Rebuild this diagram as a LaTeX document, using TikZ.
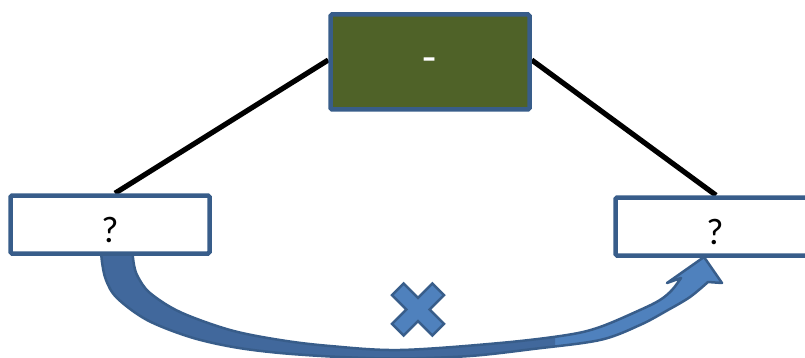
\documentclass[tikz,border=0pt]{standalone}
\usepackage{fontspec}
\setmainfont{Carlito}
\definecolor{olivefill}{HTML}{4F6228}
\definecolor{arrowfill}{HTML}{4F81BD}
\definecolor{arrowdark}{HTML}{41689C}
\definecolor{arrowline}{HTML}{385D8A}
\pgfdeclarelayer{background}
\pgfsetlayers{background,main}
\newcommand\shiftedtext[2]{\raisebox{#1}[0pt][0pt]{#2}}
\begin{document}
\begin{tikzpicture}[x=1pt,y=-1pt,
  box/.style={draw=arrowline, line width=4.5pt, rounded corners=1.5pt,
    minimum width=199pt, inner sep=0pt, fill=white},
  smallbox/.style={box, minimum height=58pt, font=\fontsize{37}{44}\selectfont},
  topbox/.style={box, minimum height=95pt, fill=olivefill, text=white,
    font=\fontsize{46}{54}\selectfont},
  link/.style={line width=5.2pt, black},
  blockarrow/.style={draw=arrowline, line width=2.5pt, line join=round}]
\useasboundingbox (0,0) rectangle (805,358);

\node[topbox] (top) at (430,62) {\shiftedtext{-11pt}{-}};
\node[smallbox] (left) at (110,224.5) {\shiftedtext{-18pt}{?}};
\node[smallbox] (right) at (715,226.5) {\shiftedtext{-18pt}{?}};

\def\arrowoutline{plot[smooth, tension=0.55] coordinates {(101,248) (102,262) (106,280) (117,298) (147,320) (190,337) (233,347) (280,353) (340,357) (400,358.5) (470,356) (533,349) (600,340) (640,325) (668,310) (690,297) (708,282)}
  -- (722,283) -- (704,257) -- (667,283) -- (681,278)
  -- plot[smooth, tension=0.55] coordinates {(681,278) (672,290) (660,300) (640,310) (600,327) (567,335) (500,343) (400,350) (330,346) (280,340) (230,330) (180,312) (150,293) (138,277) (134,265) (132,248)} -- cycle}

\begin{pgfonlayer}{background}
  \fill[arrowfill] \arrowoutline;
  \begin{scope}
    \clip (0,0) rectangle (555,358);
    \fill[arrowdark] \arrowoutline;
  \end{scope}
  \draw[blockarrow] \arrowoutline;
  \draw[link] ([yshift=2pt]top.west) -- ([xshift=5pt]left.north);
  \draw[link] ([yshift=2pt]top.east) -- ([xshift=1pt]right.north);
\end{pgfonlayer}

\begin{scope}[shift={(418,309.5)}, rotate=45]
  \draw[blockarrow, fill=arrowfill, line join=miter]
    (28.5,-8.25) -- (28.5,8.25) -- (8.25,8.25) -- (8.25,28.5) -- (-8.25,28.5)
    -- (-8.25,8.25) -- (-28.5,8.25) -- (-28.5,-8.25) -- (-8.25,-8.25)
    -- (-8.25,-28.5) -- (8.25,-28.5) -- (8.25,-8.25) -- cycle;
\end{scope}
\end{tikzpicture}
\end{document}
